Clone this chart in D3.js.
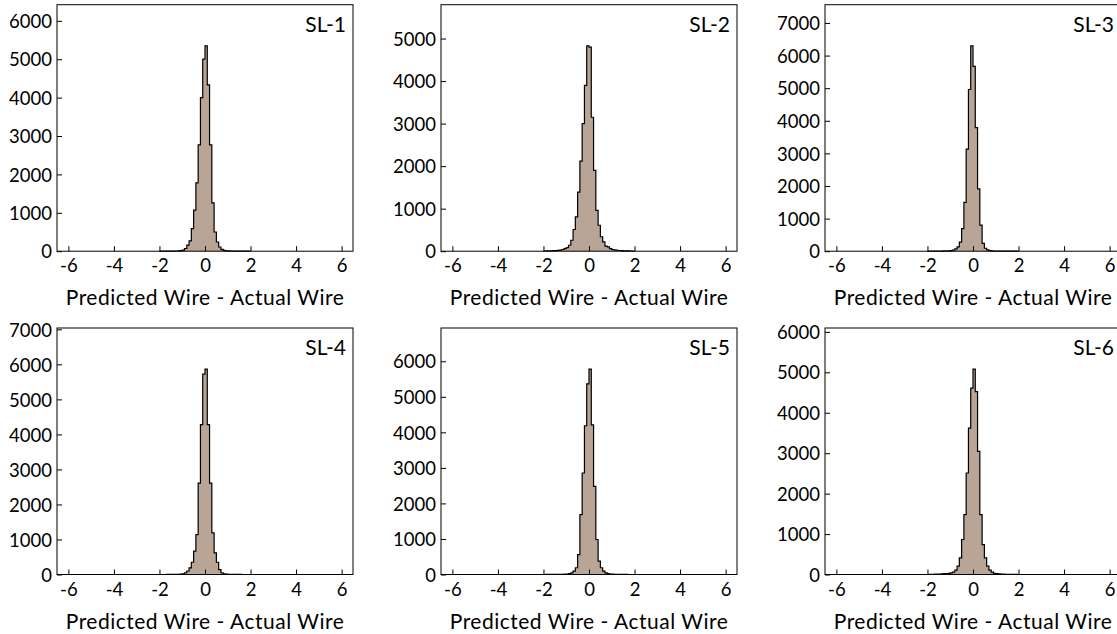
<!DOCTYPE html>
<meta charset="utf-8">
<html>
  <head>
    <style>
      body { margin: 0; background: #fff; font-family: "Lato", sans-serif; }
    </style>
  </head>
  <body>
    <div id="grid"></div>
    <script src="https://cdn.jsdelivr.net/npm/d3@7"></script>
    <script>

      // histogram bins: width 0.1, from -2.0 to 2.0 (everything outside is ~0)
      const binStart = -2.0;
      const binWidth = 0.1;

      const panelNames = ["SL-1", "SL-2", "SL-3", "SL-4", "SL-5", "SL-6"];
      const xTicks = [-6, -4, -2, 0, 2, 4, 6];

      const sl1 = [0, 0, 0, 1, 1, 2, 3, 5, 8, 15, 30, 70, 160, 270, 590, 1070, 1780, 2770, 4000, 5000,
                   5350, 4330, 2770, 1260, 500, 240, 110, 45, 20, 10, 6, 4, 3, 2, 1, 1, 0, 0, 0, 0];
      const sl2 = [5, 6, 8, 10, 12, 15, 20, 25, 40, 60, 86, 140, 258, 510, 805, 1390, 2120, 3000, 3900, 4830,
                   4800, 3150, 1900, 960, 610, 340, 220, 117, 100, 60, 40, 30, 22, 16, 12, 10, 8, 6, 5, 4];
      const sl3 = [0, 0, 0, 1, 2, 3, 5, 8, 5, 8, 15, 30, 70, 130, 280, 690, 1500, 3130, 4960, 6300,
                   5670, 3790, 1910, 800, 240, 90, 40, 20, 10, 6, 4, 3, 2, 1, 1, 0, 0, 0, 0, 0];
      const sl4 = [0, 0, 0, 1, 1, 2, 3, 4, 5, 10, 20, 50, 100, 190, 350, 665, 1140, 2610, 4280, 5720,
                   5865, 4280, 2610, 1190, 620, 350, 140, 50, 20, 10, 6, 4, 3, 2, 1, 1, 0, 0, 0, 0];
      const sl5 = [0, 1, 1, 2, 2, 3, 4, 4, 5, 8, 12, 25, 47, 95, 190, 560, 1685, 2856, 4185, 5365,
                   5780, 4210, 2480, 985, 375, 190, 95, 47, 25, 12, 8, 5, 4, 3, 2, 1, 1, 0, 0, 0];
      const sl6 = [4, 5, 6, 8, 10, 12, 15, 20, 25, 30, 40, 58, 107, 205, 410, 865, 1480, 2510, 3620, 4610,
                   5080, 4525, 3045, 1480, 740, 410, 205, 107, 58, 30, 20, 15, 10, 8, 6, 5, 4, 3, 2, 2];
      const allCounts = [sl1, sl2, sl3, sl4, sl5, sl6];

      // layout
      const panelW = 296, panelH = 246.5;
      const colX = [57, 441, 825];
      const rowY = [4.7, 328];

      const svg = d3.select("#grid")
        .append("svg")
          .attr("width", 1117)
          .attr("height", 634);

      allCounts.forEach((counts, p) => {
        const g = svg.append("g")
          .attr("transform", `translate(${colX[p % 3]}, ${rowY[Math.floor(p / 3)]})`);

        const xScale = d3.scaleLinear().domain([-6.5, 6.5]).range([0, panelW]);
        const yScale = d3.scaleLinear().domain([0, d3.max(counts) * 1.2]).range([panelH, 0]);

        // step points: one per bin edge, last point repeats the last count
        const pts = counts.map((c, i) => ({x: binStart + i * binWidth, c: c}));
        pts.push({x: binStart + counts.length * binWidth, c: counts[counts.length - 1]});

        g.append("path")
          .datum(pts)
          .attr("fill", "#b9a595")
          .attr("d", d3.area().curve(d3.curveStepAfter)
            .x(d => xScale(d.x))
            .y0(yScale(0))
            .y1(d => yScale(d.c)));

        g.append("path")
          .datum(pts)
          .attr("fill", "none")
          .attr("stroke", "#000")
          .attr("stroke-width", 1.2)
          .attr("d", d3.line().curve(d3.curveStepAfter)
            .x(d => xScale(d.x))
            .y(d => yScale(d.c)));

        // axes, ticks point inward
        const xAxis = g.append("g")
          .attr("transform", `translate(0, ${panelH})`)
          .call(d3.axisBottom(xScale).tickValues(xTicks).tickSizeInner(-5).tickSizeOuter(0).tickPadding(8)
            .tickFormat(d => String(d)));
        const yAxis = g.append("g")
          .call(d3.axisLeft(yScale).ticks(8).tickSizeInner(-5).tickSizeOuter(0).tickPadding(5)
            .tickFormat(d3.format("d")));
        [xAxis, yAxis].forEach(a => {
          a.select(".domain").remove();
          a.selectAll("line").attr("stroke", "#000");
          a.selectAll("text")
            .attr("fill", "#000")
            .style("font-family", "Lato, sans-serif")
            .style("font-size", "18.5px");
        });
        yAxis.selectAll("text").attr("dy", "0.36em");

        // frame
        g.append("rect")
          .attr("width", panelW)
          .attr("height", panelH)
          .attr("fill", "none")
          .attr("stroke", "#000")
          .attr("stroke-width", 1);

        g.append("text")
          .attr("x", panelW - 7)
          .attr("y", 27)
          .attr("text-anchor", "end")
          .style("font-size", "21px")
          .text(panelNames[p]);

        g.append("text")
          .attr("x", panelW / 2)
          .attr("y", panelH + 54)
          .attr("text-anchor", "middle")
          .style("font-size", "21px")
          .style("letter-spacing", "0.5px")
          .text("Predicted Wire - Actual Wire");
      });

    </script>
  </body>
</html>
